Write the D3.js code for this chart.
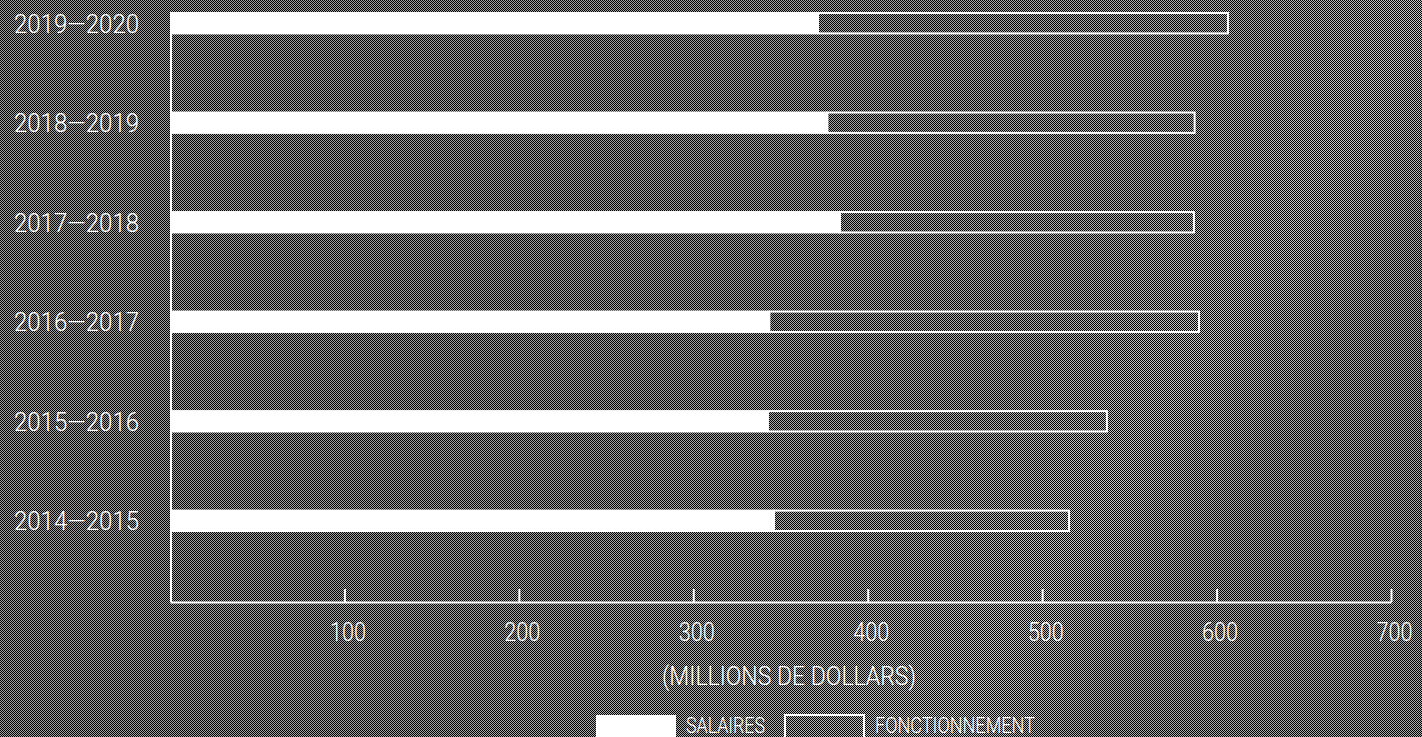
<!DOCTYPE html>
<html>
<head>
<meta charset="utf-8">
<script src="https://cdn.jsdelivr.net/npm/d3@7"></script>
<style>
  html, body { margin: 0; padding: 0; background: #3a3a3a; overflow: hidden; }
  svg { display: block; }
  text { fill: #ffffff; font-family: "Roboto", "DejaVu Sans Condensed", sans-serif; font-weight: 300; }
</style>
</head>
<body>
<svg id="chart" width="1422" height="737"></svg>
<script>
// ---- data ----
const years = ["2019—2020", "2018—2019", "2017—2018", "2016—2017", "2015—2016", "2014—2015"];
const salaires = [371.5, 376.9, 384.1, 343.6, 342.8, 346.3];
const fonctionnement = [235.6, 211.1, 203.5, 246.9, 194.9, 169.7];
const tickValues = [100, 200, 300, 400, 500, 600, 700];
const axisTitle = "(MILLIONS DE DOLLARS)";
const legendLabels = ["SALAIRES", "FONCTIONNEMENT"];

const W = 1422, H = 737;
const svg = d3.select("#chart");
const defs = svg.append("defs");

// background: gradient + 1px checker dither
const grad = defs.append("linearGradient").attr("id", "bg")
  .attr("x1", "0").attr("y1", "0").attr("x2", "1").attr("y2", "0.35");
[[0, "#a0a0a0"], [0.55, "#a4a4a4"], [0.8, "#b2b2b2"], [0.9, "#c8c8c8"], [1, "#aaaaaa"]]
  .forEach(([o, c]) => grad.append("stop").attr("offset", o).attr("stop-color", c));
const pat = defs.append("pattern").attr("id", "dither")
  .attr("width", 2).attr("height", 2).attr("patternUnits", "userSpaceOnUse");
pat.append("rect").attr("x", 0).attr("y", 0).attr("width", 1).attr("height", 1).attr("fill", "#000");
pat.append("rect").attr("x", 1).attr("y", 1).attr("width", 1).attr("height", 1).attr("fill", "#000");

svg.append("rect").attr("width", W).attr("height", H).attr("fill", "url(#bg)");
svg.append("rect").attr("width", W).attr("height", H).attr("fill", "url(#dither)");

// ---- scales ----
const x = d3.scaleLinear().domain([0, 700]).range([170, 1391]);
const y = d3.scaleBand().domain(years).range([12, 532]).paddingInner(0.775).paddingOuter(0);
const axisY = 602;

// ---- bars ----
const rows = years.map((yr, i) => ({ yr, s: salaires[i], f: fonctionnement[i] }));
svg.append("g").selectAll("rect").data(rows).join("rect")
  .attr("x", d => x(0) + 2)
  .attr("y", d => y(d.yr))
  .attr("width", d => x(d.s) - x(0) - 2)
  .attr("height", y.bandwidth())
  .attr("fill", "#fff");

svg.append("g").selectAll("rect").data(rows).join("rect")
  .attr("x", d => x(d.s))
  .attr("y", d => y(d.yr) + 1)
  .attr("width", d => x(d.s + d.f) - x(d.s) - 1)
  .attr("height", y.bandwidth() - 2)
  .attr("fill", "none")
  .attr("stroke", "#fff")
  .attr("stroke-width", 2);

// ---- year labels ----
svg.append("g").selectAll("text").data(rows).join("text")
  .attr("x", 14)
  .attr("y", d => y(d.yr) + y.bandwidth() / 2)
  .attr("dy", "0.36em")
  .attr("font-size", 26)
  .attr("textLength", 125)
  .attr("lengthAdjust", "spacingAndGlyphs")
  .text(d => d.yr);

// ---- axes ----
svg.append("line")
  .attr("x1", x(0) + 1).attr("x2", x(0) + 1)
  .attr("y1", y(years[0])).attr("y2", axisY)
  .attr("stroke", "#fff").attr("stroke-width", 2);

const axis = d3.axisBottom(x).tickValues(tickValues).tickSizeInner(-13).tickSizeOuter(0).tickPadding(0)
  .tickFormat(d3.format("d"));
const gx = svg.append("g").attr("transform", `translate(0,${axisY})`).call(axis);
gx.select(".domain").attr("stroke", "#fff").attr("stroke-width", 2);
gx.selectAll(".tick line").attr("stroke", "#fff").attr("stroke-width", 2);
gx.selectAll(".tick text")
  .attr("y", 39).attr("dy", 0)
  .attr("font-size", 26)
  .attr("fill", "#fff")
  .attr("font-family", "Roboto, \"DejaVu Sans Condensed\", sans-serif")
  .attr("font-weight", 300)
  .attr("textLength", 36)
  .attr("lengthAdjust", "spacingAndGlyphs")
  .attr("dx", 3);

// axis title
svg.append("text")
  .attr("x", 662).attr("y", 685)
  .attr("font-size", 26)
  .attr("textLength", 254)
  .attr("lengthAdjust", "spacingAndGlyphs")
  .text(axisTitle);

// ---- legend ----
const lg = svg.append("g");
lg.append("rect").attr("x", 596).attr("y", 715).attr("width", 80).attr("height", 30).attr("fill", "#fff");
lg.append("text").attr("x", 686).attr("y", 733).attr("font-size", 22)
  .attr("textLength", 79).attr("lengthAdjust", "spacingAndGlyphs").text(legendLabels[0]);
lg.append("rect").attr("x", 785).attr("y", 715).attr("width", 79).attr("height", 30)
  .attr("fill", "none").attr("stroke", "#fff").attr("stroke-width", 2);
lg.append("text").attr("x", 875).attr("y", 733).attr("font-size", 22)
  .attr("textLength", 160).attr("lengthAdjust", "spacingAndGlyphs").text(legendLabels[1]);
</script>
</body>
</html>
